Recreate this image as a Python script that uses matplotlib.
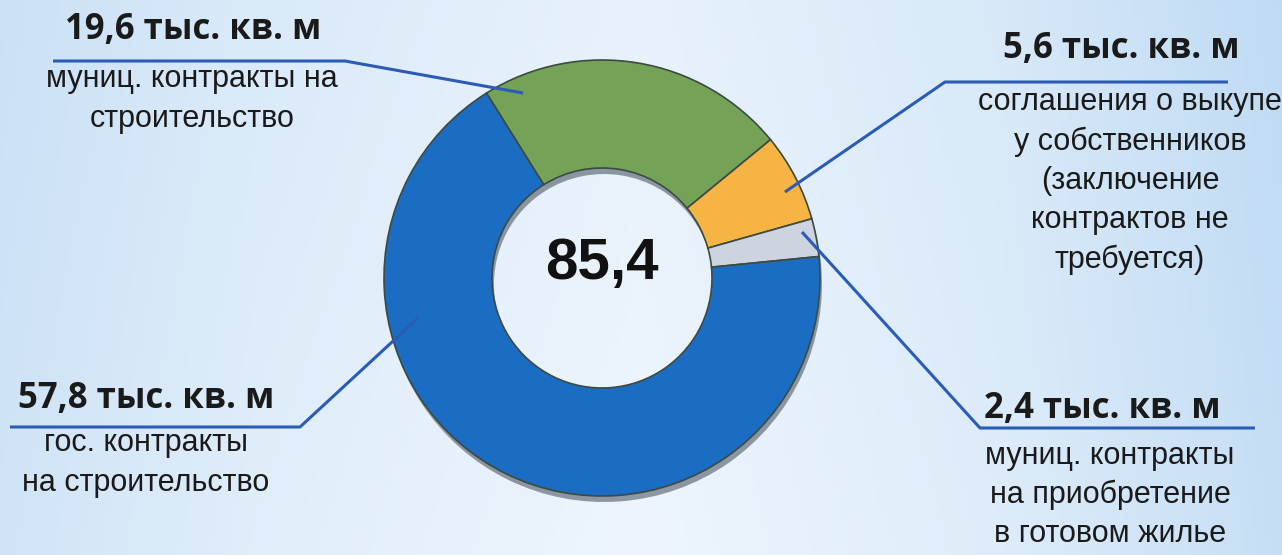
import numpy as np
import matplotlib.pyplot as plt

# данные диаграммы (тыс. кв. м)
values = [19.6, 5.6, 2.4, 57.8]
colors = ['#74a257', '#f6b445', '#cdd3df', '#1b6cc3']
total_label = '85,4'
value_labels = ['19,6 тыс. кв. м', '5,6 тыс. кв. м', '2,4 тыс. кв. м', '57,8 тыс. кв. м']
desc_labels = ['муниц. контракты на\nстроительство',
               'соглашения о выкупе\nу собственников\n(заключение\nконтрактов не\nтребуется)',
               'муниц. контракты\nна приобретение\nв готовом жилье',
               'гос. контракты\nна строительство']

W, H = 1282, 555
LINE = '#2b5cb5'
BOLD = ['Open Sans', 'DejaVu Sans']
NARROW = ['Liberation Sans Narrow', 'Liberation Sans', 'DejaVu Sans']


def p(x, y):
    # пиксели картинки -> координаты осей (y вверх)
    return x, H - y


fig = plt.figure(figsize=(W / 100, H / 100), dpi=100)
ax = fig.add_axes([0, 0, 1, 1])

# фон: светло-голубой градиент
xs = np.linspace(0, 1, 300)
row = np.interp(xs, [0, 0.2, 0.5, 0.78, 1], [0.35, 0.65, 0.9, 0.6, 0.15])
ys = np.linspace(0, 1, 120)[:, None]
t = np.clip(row[None, :] + 0.12 * ys, 0, 1)
c_dark = np.array([0.72, 0.84, 0.95])
c_light = np.array([0.93, 0.96, 0.99])
bg = c_dark + (c_light - c_dark) * t[..., None]
ax.imshow(bg, extent=[0, W, 0, H], aspect='auto', zorder=0)

cx, cy = p(602, 278)
R = 218
width = 108

# тень снизу для объёма
ax.pie(values, colors=['#2e3b4a'] * 4, startangle=122, counterclock=False,
       radius=R, center=(cx + 2, cy - 6),
       wedgeprops=dict(width=width, edgecolor='none', alpha=0.5))
wedges, _ = ax.pie(values, colors=colors, startangle=122, counterclock=False,
                   radius=R, center=(cx, cy),
                   wedgeprops=dict(width=width, edgecolor='#3d4a40', linewidth=1.2))
for w in wedges:
    w.set_zorder(3)

ax.text(cx, cy + 14, total_label, ha='center', va='center', fontsize=42,
        fontweight='bold', family=NARROW, color='#111111', zorder=5)

# выноски: (подпись, горизонталь, конец линии)
label_pos = [
    dict(vt=(193, 30), dt=(192, 99), hl=(53, 345, 61), end=(523, 93)),
    dict(vt=(1121, 49), dt=(1130, 181), hl=(1228, 945, 82), end=(785, 192)),
    dict(vt=(1102, 409), dt=(1110, 495), hl=(1255, 980, 428), end=(802, 232)),
    dict(vt=(146, 399), dt=(146, 463), hl=(10, 300, 427), end=(418, 318)),
]

for i in range(len(values)):
    lp = label_pos[i]
    x0, x1, yl = lp['hl']
    ex, ey = lp['end']
    xx = [p(x0, yl)[0], p(x1, yl)[0], p(ex, ey)[0]]
    yy = [p(x0, yl)[1], p(x1, yl)[1], p(ex, ey)[1]]
    ax.plot(xx, yy, color=LINE, lw=2.2, zorder=6, solid_capstyle='butt')
    ax.text(*p(*lp['vt']), value_labels[i], ha='center', va='center',
            fontsize=25, fontweight='bold', family=BOLD, color='#1a1a1a', zorder=6)
    ax.text(*p(*lp['dt']), desc_labels[i], ha='center', va='center',
            fontsize=22, family=NARROW, color='#1a1a1a', linespacing=1.4, zorder=6)

ax.set_xlim(0, W)
ax.set_ylim(0, H)
ax.set_aspect('auto')
ax.axis('off')

fig.savefig('out.png', dpi=100)
